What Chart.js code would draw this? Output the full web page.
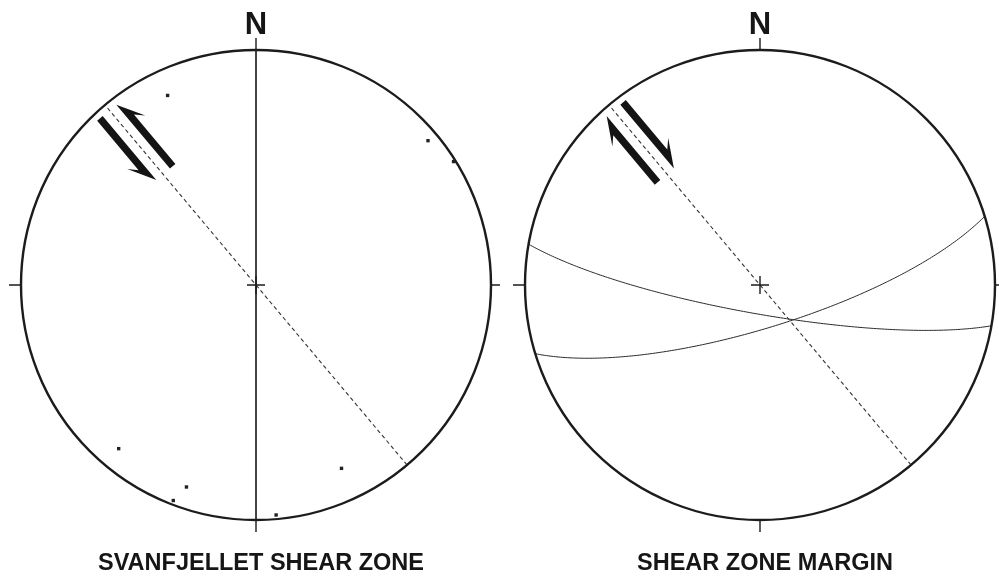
<!DOCTYPE html>
<html>
<head>
<meta charset="utf-8">
<script src="https://cdn.jsdelivr.net/npm/chart.js@4.4.1/dist/chart.umd.min.js"></script>
<style>
  html, body { margin: 0; padding: 0; background: #fff; }
  #wrap { position: relative; width: 999px; height: 576px; overflow: hidden; }
  canvas { position: absolute; top: 0; }
</style>
</head>
<body>
<div id="wrap">
  <canvas id="netLeft" width="500" height="576" style="left:0"></canvas>
  <canvas id="netRight" width="499" height="576" style="left:500px"></canvas>
</div>
<script>
// Svanfjellet shear zone: lineations (trend / plunge, degrees)
var svanLineTrend  = [335, 50, 58, 220, 199, 201, 155, 175];
var svanLinePlunge = [12, 5, 1, 10, 10, 2, 15, 2];
// Svanfjellet shear zone: foliation plane (strike RHR / dip)
var svanPlaneStrike = [0];
var svanPlaneDip    = [90];
// shear zone margin: planes (strike RHR / dip)
var marginPlaneStrike = [100, 73];
var marginPlaneDip    = [80, 75];
// trace of the shear zone, strike of a vertical plane
var shearStrike = 140;
// +1 = NE block moves NW (sinistral), -1 = NE block moves SE (dextral)
var shearSense = [1, -1];
var netTitles = ["SVANFJELLET SHEAR ZONE", "SHEAR ZONE MARGIN"];

var RAD = Math.PI / 180;

// lower hemisphere, equal area (Schmidt) projection, unit primitive
function project(trend, plunge) {
  var r = Math.SQRT2 * Math.sin((90 - plunge) * RAD / 2);
  return { x: r * Math.sin(trend * RAD), y: r * Math.cos(trend * RAD) };
}

function greatCircle(strike, dip) {
  var s = strike * RAD, dd = (strike + 90) * RAD, d = dip * RAD;
  var pts = [];
  for (var a = 0; a <= 180; a += 1) {
    var c = Math.cos(a * RAD), sn = Math.sin(a * RAD);
    var n = c * Math.cos(s) + sn * Math.cos(d) * Math.cos(dd);
    var e = c * Math.sin(s) + sn * Math.cos(d) * Math.sin(dd);
    var down = Math.min(1, sn * Math.sin(d));
    pts.push(project(Math.atan2(e, n) / RAD, Math.asin(down) / RAD));
  }
  return pts;
}

function planeSet(strike, dip, dashed) {
  return {
    data: greatCircle(strike, dip),
    showLine: true,
    pointRadius: 0,
    borderColor: dashed ? '#333' : '#2a2a2a',
    borderWidth: dashed ? 1.1 : 1,
    borderDash: dashed ? [4, 3] : [],
    fill: false
  };
}

// primitive circle, cardinal ticks, centre cross and labels
var stereonetFrame = {
  id: 'stereonetFrame',
  afterDatasetsDraw: function (chart, args, opts) {
    var ctx = chart.ctx, xs = chart.scales.x, ys = chart.scales.y;
    var cx = xs.getPixelForValue(0), cy = ys.getPixelForValue(0);
    var R = xs.getPixelForValue(1) - cx;
    ctx.save();
    ctx.strokeStyle = '#1c1c1c';
    ctx.lineWidth = 2.4;
    ctx.beginPath();
    ctx.arc(cx, cy, R, 0, 2 * Math.PI);
    ctx.stroke();

    ctx.lineWidth = 1.4;
    ctx.beginPath();
    ctx.moveTo(cx, cy - R); ctx.lineTo(cx, cy - R - 12);
    ctx.moveTo(cx, cy + R); ctx.lineTo(cx, cy + R + 12);
    ctx.moveTo(cx - R, cy); ctx.lineTo(cx - R - 12, cy);
    ctx.moveTo(cx + R, cy); ctx.lineTo(cx + R + 12, cy);
    ctx.moveTo(cx - 9, cy); ctx.lineTo(cx + 9, cy);
    ctx.moveTo(cx, cy - 9); ctx.lineTo(cx, cy + 9);
    ctx.stroke();

    ctx.fillStyle = '#161616';
    ctx.textAlign = 'center';
    ctx.textBaseline = 'alphabetic';
    ctx.font = 'bold 31px "Liberation Sans", Arial, sans-serif';
    ctx.fillText('N', cx, cy - R - 16);
    ctx.font = 'bold 23.5px "Liberation Sans", Arial, sans-serif';
    ctx.fillText(opts.title, cx + 5, cy + R + 50);

    drawShearArrows(chart, opts.sense, cx, cy, R);
    ctx.restore();
  }
};

// pair of half arrows either side of the shear zone trace
function drawShearArrows(chart, sense, cx, cy, R) {
  var ctx = chart.ctx;
  var t = (shearStrike + 180) * RAD;
  var u = { x: Math.sin(t), y: -Math.cos(t) };   // along trace, towards NW (pixels, y down)
  var v = { x: Math.cos(t), y: Math.sin(t) };    // across trace, towards NE
  var a0 = 0.615 * R, a1 = 0.97 * R;
  var off = 12.5, hw = 3.6, headLen = 27, barb = 8;

  function pt(al, pe) {
    return [cx + u.x * al + v.x * pe, cy + u.y * al + v.y * pe];
  }

  [1, -1].forEach(function (side) {
    var outward = side * sense > 0;
    var tip = outward ? a1 : a0, tail = outward ? a0 : a1;
    var dir = outward ? 1 : -1;
    var inner = side * (off - hw), outer = side * (off + hw);
    var poly = [
      pt(tail, inner),
      pt(tip, inner),
      pt(tip - dir * headLen, side * (off + hw + barb)),
      pt(tip - dir * headLen * 0.7, outer),
      pt(tail, outer)
    ];
    ctx.fillStyle = '#141414';
    ctx.beginPath();
    ctx.moveTo(poly[0][0], poly[0][1]);
    for (var i = 1; i < poly.length; i++) ctx.lineTo(poly[i][0], poly[i][1]);
    ctx.closePath();
    ctx.fill();
  });
}

function netOptions(pad, idx) {
  return {
    responsive: false,
    animation: false,
    events: [],
    layout: { padding: pad },
    scales: {
      x: { type: 'linear', min: -1, max: 1, display: false },
      y: { type: 'linear', min: -1, max: 1, display: false }
    },
    plugins: {
      legend: { display: false },
      tooltip: { enabled: false },
      stereonetFrame: { title: netTitles[idx], sense: shearSense[idx] }
    }
  };
}

Chart.register(stereonetFrame);

var leftSets = [planeSet(shearStrike, 90, true)];
svanPlaneStrike.forEach(function (s, i) {
  leftSets.push(planeSet(s, svanPlaneDip[i], false));
});
leftSets.push({
  data: svanLineTrend.map(function (t, i) { return project(t, svanLinePlunge[i]); }),
  pointStyle: 'rect',
  pointRadius: 2.4,
  borderWidth: 0,
  backgroundColor: '#222'
});

new Chart(document.getElementById('netLeft'), {
  type: 'scatter',
  data: { datasets: leftSets },
  options: netOptions({ left: 21, right: 9, top: 50, bottom: 56 }, 0)
});

var rightSets = [planeSet(shearStrike, 90, true)];
marginPlaneStrike.forEach(function (s, i) {
  rightSets.push(planeSet(s, marginPlaneDip[i], false));
});

new Chart(document.getElementById('netRight'), {
  type: 'scatter',
  data: { datasets: rightSets },
  options: netOptions({ left: 25, right: 4, top: 50, bottom: 56 }, 1)
});
</script>
</body>
</html>
